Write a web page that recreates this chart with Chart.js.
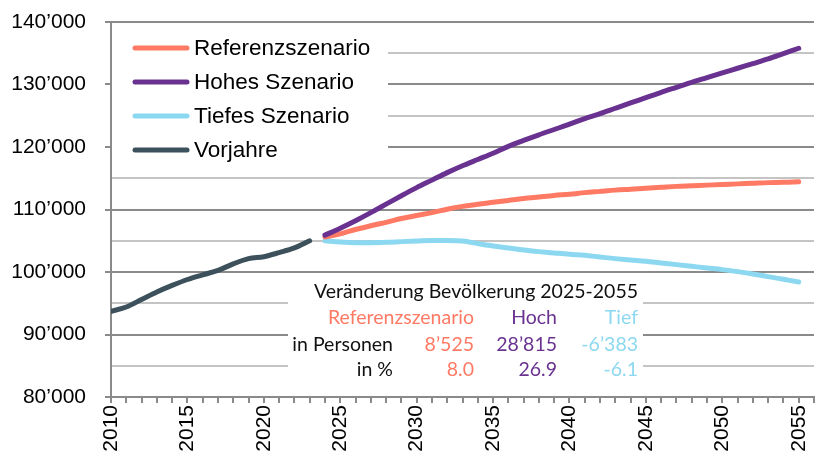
<!DOCTYPE html>
<html>
<head>
<meta charset="utf-8">
<script src="https://cdn.jsdelivr.net/npm/chart.js@4"></script>
<style>
  html, body { margin: 0; padding: 0; background: #fff; }
  canvas { display: block; }
</style>
</head>
<body>
<canvas id="chart" width="817" height="466"></canvas>
<script>
// Vorjahre (observed)
const pastYears = [2010, 2011, 2012, 2013, 2014, 2015, 2016, 2017, 2018, 2019, 2020, 2021, 2022, 2023];
const vorjahre = [93700, 94400, 95600, 96800, 97850, 98800, 99550, 100250, 101300, 102150, 102450, 103100, 103850, 105000];

// Szenarien
const futureYears = [2024, 2025, 2026, 2027, 2028, 2029, 2030, 2031, 2032, 2033, 2034, 2035, 2036, 2037, 2038, 2039,
  2040, 2041, 2042, 2043, 2044, 2045, 2046, 2047, 2048, 2049, 2050, 2051, 2052, 2053, 2054, 2055];
const referenz = [105600, 106100, 106800, 107400, 107950, 108550, 109050, 109500, 110050, 110500, 110850, 111150,
  111450, 111750, 112000, 112250, 112450, 112700, 112900, 113100, 113250, 113400, 113550, 113700, 113800, 113900,
  114000, 114100, 114200, 114300, 114350, 114450];
const hoch = [105900, 107000, 108200, 109500, 110850, 112200, 113500, 114700, 115900, 117000, 118000, 119000,
  120100, 121050, 121950, 122800, 123650, 124550, 125350, 126200, 127050, 127900, 128750, 129550, 130350, 131100,
  131850, 132600, 133350, 134100, 134950, 135800];
const tief = [105000, 104800, 104700, 104700, 104750, 104860, 104960, 105050, 105050, 104950, 104550, 104170,
  103850, 103520, 103260, 103040, 102830, 102670, 102400, 102140, 101920, 101710, 101440, 101180, 100910, 100640,
  100380, 100060, 99680, 99260, 98830, 98400];

const seriesNames = ['Referenzszenario', 'Hohes Szenario', 'Tiefes Szenario', 'Vorjahre'];
const seriesColors = ['#ff7a64', '#6a3290', '#8cd8f0', '#3c515b'];

// Tabelle
const tableTitle = 'Veränderung Bevölkerung 2025-2055';
const tableHeads = ['Referenzszenario', 'Hoch', 'Tief'];
const tableRows = [
  ['in Personen', '8’525', '28’815', '-6’383'],
  ['in %', '8.0', '26.9', '-6.1']
];

const pts = (xs, ys) => xs.map((x, i) => ({ x: x, y: ys[i] }));

function lineSet(label, data, color) {
  return {
    label: label, data: data,
    borderColor: color, backgroundColor: color,
    borderWidth: 5, pointRadius: 0, borderCapStyle: 'round', borderJoinStyle: 'round',
    cubicInterpolationMode: 'monotone', fill: false
  };
}

const overlay = {
  id: 'overlay',
  beforeDatasetsDraw(chart) {
    const c = chart.ctx;
    c.save();
    c.fillStyle = '#fff';
    c.fillRect(112, 25, 276, 146);
    c.fillRect(288, 276, 355, 119);

    // legend
    c.font = '22.5px "Liberation Sans", Arial, sans-serif';
    c.textBaseline = 'middle';
    c.textAlign = 'left';
    seriesNames.forEach((name, i) => {
      const y = 48 + i * 34;
      c.strokeStyle = seriesColors[i];
      c.lineWidth = 5;
      c.lineCap = 'round';
      c.beginPath();
      c.moveTo(135, y);
      c.lineTo(187, y);
      c.stroke();
      c.fillStyle = '#000';
      c.fillText(name, 194, y + 1);
    });

    // table
    c.font = '19.5px Lato, "Open Sans", sans-serif';
    c.textAlign = 'right';
    c.fillStyle = '#111';
    c.fillText(tableTitle, 638, 292);
    const cols = [474, 557, 638];
    tableHeads.forEach((h, i) => {
      c.fillStyle = seriesColors[i];
      c.fillText(h, cols[i], 318);
    });
    tableRows.forEach((row, r) => {
      const y = 345 + r * 25;
      c.fillStyle = '#111';
      c.fillText(row[0], 393, y);
      for (let i = 0; i < 3; i++) {
        c.fillStyle = seriesColors[i];
        c.fillText(row[i + 1], cols[i], y);
      }
    });
    c.restore();
  }
};

new Chart(document.getElementById('chart'), {
  type: 'line',
  data: {
    datasets: [
      lineSet(seriesNames[1], pts(futureYears, hoch), seriesColors[1]),
      lineSet(seriesNames[0], pts(futureYears, referenz), seriesColors[0]),
      lineSet(seriesNames[2], pts(futureYears, tief), seriesColors[2]),
      lineSet(seriesNames[3], pts(pastYears, vorjahre), seriesColors[3])
    ]
  },
  options: {
    responsive: false,
    animation: false,
    layout: { padding: { left: 0, top: 22, right: 3, bottom: 0 } },
    plugins: { legend: { display: false }, tooltip: { enabled: false } },
    scales: {
      x: {
        type: 'linear', min: 2010, max: 2056,
        afterFit: s => { s.height = 69; s.paddingLeft = 0; s.paddingRight = 0; },
        grid: { drawOnChartArea: false, drawTicks: true, tickLength: 6, tickColor: '#8a8a8a', lineWidth: 2 },
        border: { color: '#8a8a8a', width: 2 },
        ticks: {
          stepSize: 1, autoSkip: false, minRotation: 90, maxRotation: 90, padding: 2,
          color: '#000', font: { family: '"Liberation Sans", Arial, sans-serif', size: 21 },
          callback: v => (v % 5 === 0 && v <= 2055) ? String(v) : ''
        }
      },
      y: {
        min: 80000, max: 140000,
        afterFit: s => { s.width = 111; s.paddingTop = 0; s.paddingBottom = 0; },
        grid: {
          lineWidth: 2, tickLength: 6,
          color: ctx => ctx.tick && ctx.tick.value % 10000 === 0 ? '#8a8a8a' : '#c4c4c4',
          tickColor: ctx => ctx.tick && ctx.tick.value % 10000 === 0 ? '#8a8a8a' : 'rgba(0,0,0,0)'
        },
        border: { color: '#8a8a8a', width: 2 },
        ticks: {
          stepSize: 5000, autoSkip: false, padding: 19,
          color: '#000', font: { family: '"Liberation Sans", Arial, sans-serif', size: 21 },
          callback: v => v % 10000 === 0 ? (v / 1000) + '’000' : ''
        }
      }
    }
  },
  plugins: [overlay]
});
</script>
</body>
</html>
